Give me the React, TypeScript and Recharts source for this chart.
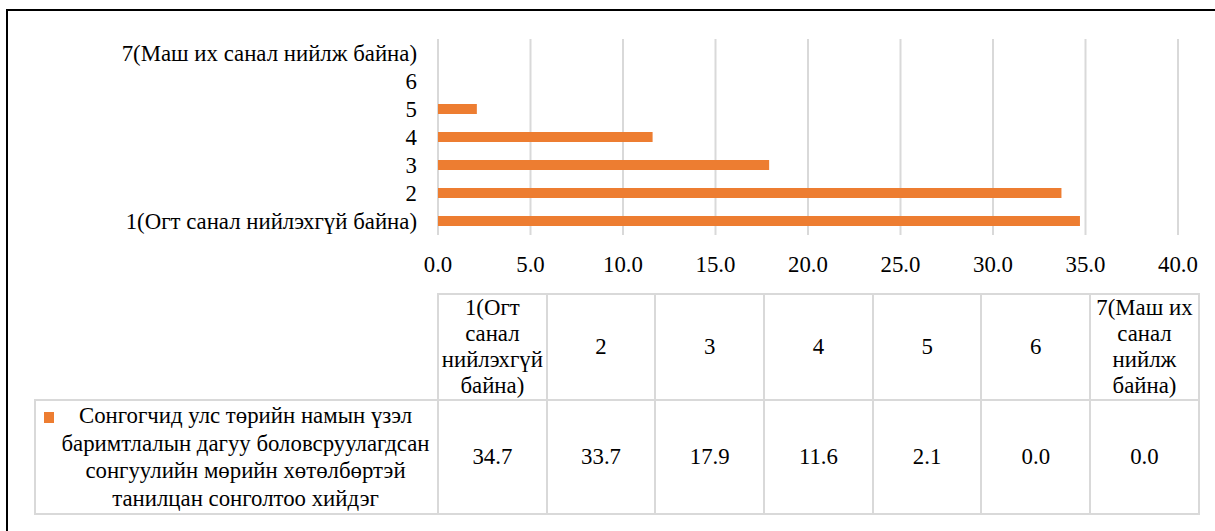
import React from "react";
import { BarChart, Bar, XAxis, YAxis, CartesianGrid } from "recharts";

const categories = [
  "1(Огт санал нийлэхгүй байна)",
  "2",
  "3",
  "4",
  "5",
  "6",
  "7(Маш их санал нийлж байна)",
];
const values = [34.7, 33.7, 17.9, 11.6, 2.1, 0.0, 0.0];
const xTicks = [0, 5, 10, 15, 20, 25, 30, 35, 40];
// table header text, with the line breaks as they show in the table
const headerLabels = [
  "1(Огт\nсанал\nнийлэхгүй\nбайна)",
  "2",
  "3",
  "4",
  "5",
  "6",
  "7(Маш их\nсанал\nнийлж\nбайна)",
];
const seriesName =
  "Сонгогчид улс төрийн намын үзэл баримтлалын дагуу боловсруулагдсан сонгуулийн мөрийн хөтөлбөртэй танилцан сонголтоо хийдэг";

const data = categories.map((c, i) => ({ cat: c, value: values[i] }));

const FONT = '"Liberation Serif", "Times New Roman", serif';
const ORANGE = "#ED7D31";
const GRID = "#d9d9d9";
const FS = 22.8;

const cellBorder = `2px solid ${GRID}`;

export default function App() {
  return (
    <div
      style={{
        position: "absolute",
        left: 0,
        top: 0,
        width: 1215,
        height: 531,
        overflow: "hidden",
        background: "#fff",
        fontFamily: FONT,
      }}
    >
      <div
        style={{
          position: "absolute",
          left: 6,
          top: 9,
          width: 1220,
          height: 540,
          borderLeft: "2px solid #000",
          borderTop: "2px solid #000",
        }}
      />
      <div style={{ position: "absolute", left: 0, top: 0 }}>
        <BarChart
          width={1215}
          height={290}
          data={data}
          layout="vertical"
          margin={{ top: 39, right: 37, left: 0, bottom: 15 }}
        >
          <CartesianGrid horizontal={false} stroke={GRID} strokeWidth={2} />
          <XAxis
            type="number"
            domain={[0, 40]}
            ticks={xTicks}
            tickFormatter={(v: number) => v.toFixed(1)}
            axisLine={false}
            tickLine={false}
            tickMargin={15}
            height={40}
            tick={{ fill: "#000", fontSize: FS, fontFamily: FONT }}
          />
          <YAxis
            type="category"
            dataKey="cat"
            reversed
            width={438}
            axisLine={false}
            tickLine={false}
            tickMargin={15}
            interval={0}
            tick={{ fill: "#000", fontSize: FS, fontFamily: FONT }}
          />
          <Bar
            dataKey="value"
            name={seriesName}
            fill={ORANGE}
            barSize={10}
            isAnimationActive={false}
          />
        </BarChart>
      </div>
      <table
        style={{
          position: "absolute",
          left: 34,
          top: 293,
          width: 1164,
          borderCollapse: "collapse",
          tableLayout: "fixed",
          fontFamily: FONT,
          fontSize: FS,
          color: "#000",
          lineHeight: "26px",
        }}
      >
        <colgroup>
          <col style={{ width: 403 }} />
          {categories.map((c) => (
            <col key={c} style={{ width: 108.7 }} />
          ))}
        </colgroup>
        <tbody>
          <tr style={{ height: 105 }}>
            <td style={{ border: "none", borderRight: cellBorder }} />
            {headerLabels.map((h) => (
              <td
                key={h}
                style={{
                  border: cellBorder,
                  textAlign: "center",
                  verticalAlign: "middle",
                  whiteSpace: "pre-line",
                  padding: 0,
                }}
              >
                {h}
              </td>
            ))}
          </tr>
          <tr style={{ height: 114 }}>
            <td
              style={{
                border: cellBorder,
                padding: 0,
                position: "relative",
                verticalAlign: "middle",
              }}
            >
              <span
                style={{
                  position: "absolute",
                  left: 8,
                  top: 11,
                  width: 10,
                  height: 11,
                  background: ORANGE,
                }}
              />
              <div
                style={{
                  textAlign: "center",
                  paddingLeft: 18,
                  paddingRight: 0,
                  lineHeight: "27.5px",
                }}
              >
                {seriesName}
              </div>
            </td>
            {values.map((v, i) => (
              <td
                key={i}
                style={{
                  border: cellBorder,
                  textAlign: "center",
                  verticalAlign: "middle",
                  padding: 0,
                }}
              >
                {v.toFixed(1)}
              </td>
            ))}
          </tr>
        </tbody>
      </table>
    </div>
  );
}
